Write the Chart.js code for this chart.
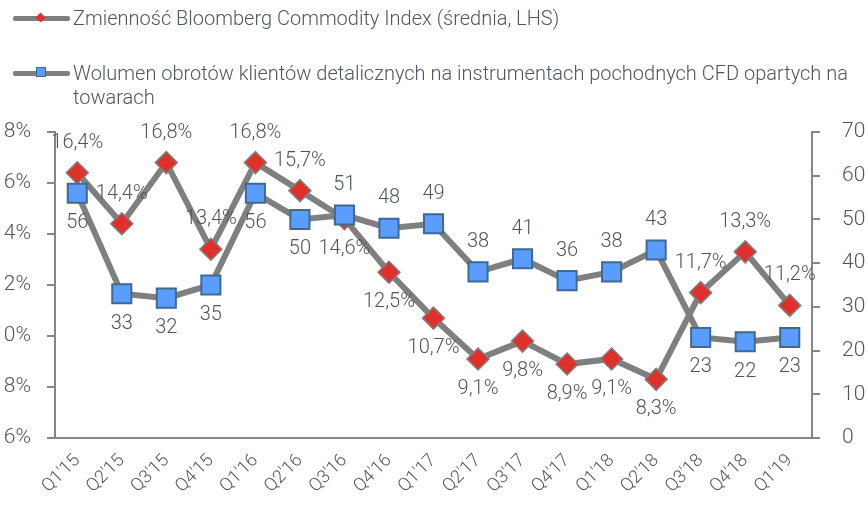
<!DOCTYPE html>
<html>
<head>
<meta charset="utf-8">
<script src="https://cdn.jsdelivr.net/npm/chart.js@4.4.1/dist/chart.umd.min.js"></script>
<style>
  body { margin: 0; background: #fff; font-family: Roboto, "Noto Sans", sans-serif; font-weight: 300; }
  #wrap { position: relative; width: 868px; height: 511px; overflow: hidden; }
  #c { position: absolute; left: 0; top: 0; }
  .leg { position: absolute; left: 13px; color: #4d5660; font-size: 20px; line-height: 24px; }
  .leg .sw { position: absolute; left: 0; width: 57px; height: 5px; background: #7f7f7f; border-radius: 2px; }
  .leg .txt { position: absolute; left: 60px; width: 790px; }
  .dia { position: absolute; left: 24px; top: -2px; width: 7px; height: 7px; background: #e0302b; transform: rotate(45deg); }
  .sq { position: absolute; left: 23px; top: -4px; width: 10px; height: 10px; background: #5b9cff; border: 1.5px solid #3d6a8f; box-sizing: border-box; }
</style>
</head>
<body>
<div id="wrap">
  <canvas id="c" width="868" height="511"></canvas>
  <div class="leg" style="top:6px">
    <div class="sw" style="top:10px"><div class="dia"></div></div>
    <div class="txt">Zmienność Bloomberg Commodity Index (średnia, LHS)</div>
  </div>
  <div class="leg" style="top:61px">
    <div class="sw" style="top:10px"><div class="sq"></div></div>
    <div class="txt">Wolumen obrotów klientów detalicznych na instrumentach pochodnych CFD opartych na towarach</div>
  </div>
</div>
<script>
// dane
var kwartaly = ["Q1'15","Q2'15","Q3'15","Q4'15","Q1'16","Q2'16","Q3'16","Q4'16","Q1'17","Q2'17","Q3'17","Q4'17","Q1'18","Q2'18","Q3'18","Q4'18","Q1'19"];
var zmiennosc = [16.4, 14.4, 16.8, 13.4, 16.8, 15.7, 14.6, 12.5, 10.7, 9.1, 9.8, 8.9, 9.1, 8.3, 11.7, 13.3, 11.2];
var wolumen = [56, 33, 32, 35, 56, 50, 51, 48, 49, 38, 41, 36, 38, 43, 23, 22, 23];
var ticksLewe = [6, 8, 10, 12, 14, 16, 18];
var ticksPrawe = [0, 10, 20, 30, 40, 50, 60, 70];

// gdzie stoi etykieta: g = nad punktem, d = pod punktem
var polozenieZm = ['g','g','g','g','g','g','d','d','d','d','d','d','d','d','g','g','g'];
var polozenieWol = ['d','d','d','d','d','d','g','g','g','g','g','g','g','g','d','d','d'];

var kolorTekstu = '#4d5660';
var kolorOsi = '#868686';

var etykiety = {
    id: 'etykiety',
    afterDatasetsDraw: function(chart){
        var ctx = chart.ctx;
        ctx.save();
        ctx.font = '300 20px Roboto';
        ctx.fillStyle = kolorTekstu;
        ctx.textAlign = 'center';
        ctx.textBaseline = 'middle';
        chart.data.datasets.forEach(function(ds, di){
            var meta = chart.getDatasetMeta(di);
            var pol = di == 0 ? polozenieZm : polozenieWol;
            meta.data.forEach(function(p, i){
                var v = ds.data[i];
                var txt = di == 0 ? v.toFixed(1).replace('.', ',') + '%' : String(v);
                var dy = pol[i] == 'g' ? -30 : 30;
                ctx.fillText(txt, p.x, p.y + dy);
            });
        });
        ctx.restore();
    }
};

new Chart(document.getElementById('c'), {
    type: 'line',
    data: {
        labels: kwartaly,
        datasets: [{
            label: 'Zmienność Bloomberg Commodity Index (średnia, LHS)',
            data: zmiennosc,
            yAxisID: 'y',
            order: 1,
            borderColor: '#7f7f7f',
            borderWidth: 6,
            pointStyle: 'rectRot',
            pointRadius: 11,
            pointBackgroundColor: '#e0302b',
            pointBorderColor: '#7f7f7f',
            pointBorderWidth: 1.5,
            tension: 0
        }, {
            label: 'Wolumen obrotów klientów detalicznych na instrumentach pochodnych CFD opartych na towarach',
            data: wolumen,
            yAxisID: 'y1',
            order: 0,
            borderColor: '#7f7f7f',
            borderWidth: 6,
            pointStyle: 'rect',
            pointRadius: 13.5,
            pointBackgroundColor: '#5b9cff',
            pointBorderColor: '#3d6a8f',
            pointBorderWidth: 2,
            tension: 0
        }]
    },
    options: {
        responsive: false,
        animation: false,
        devicePixelRatio: 1,
        layout: { padding: { top: 132, left: 0, right: 0, bottom: 0 } },
        plugins: { legend: { display: false }, tooltip: { enabled: false } },
        scales: {
            x: {
                offset: true,
                grid: { display: false },
                border: { display: true, color: kolorOsi, width: 2 },
                ticks: { color: kolorTekstu, font: { family: 'Roboto', size: 18, weight: '300' }, minRotation: 45, maxRotation: 45, padding: 4 },
                afterFit: function(s){ s.height = 73; }
            },
            y: {
                position: 'left',
                min: 6, max: 18,
                afterBuildTicks: function(s){ s.ticks = ticksLewe.map(function(v){ return {value: v}; }); },
                grid: { drawOnChartArea: false, drawTicks: true, tickLength: 8, color: kolorOsi, lineWidth: 2 },
                border: { display: true, color: kolorOsi, width: 2 },
                ticks: { color: kolorTekstu, padding: 16, font: { family: 'Roboto', size: 21, weight: '300' },
                         callback: function(v){ return v + '%'; } },
                afterFit: function(s){ s.width = 55; }
            },
            y1: {
                position: 'right',
                min: 0, max: 70,
                afterBuildTicks: function(s){ s.ticks = ticksPrawe.map(function(v){ return {value: v}; }); },
                grid: { drawOnChartArea: false, drawTicks: true, tickLength: 8, color: kolorOsi, lineWidth: 2 },
                border: { display: true, color: kolorOsi, width: 2 },
                ticks: { color: kolorTekstu, padding: 22, font: { family: 'Roboto', size: 21, weight: '300' } },
                afterFit: function(s){ s.width = 56; }
            }
        }
    },
    plugins: [etykiety]
});
</script>
</body>
</html>
